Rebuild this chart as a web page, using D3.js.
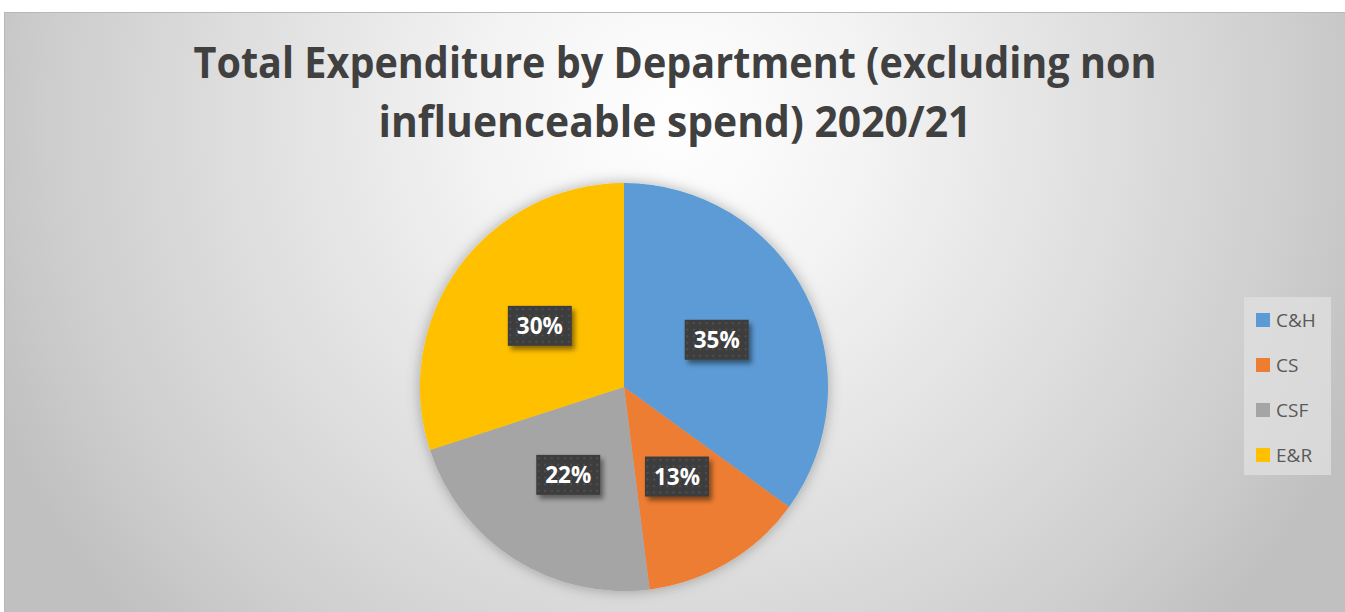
<!DOCTYPE html>
<html>
<head>
<meta charset="utf-8">
<script src="https://cdn.jsdelivr.net/npm/d3@7"></script>
<style>
  html, body { margin: 0; padding: 0; background: #ffffff; }
  svg { display: block; }
</style>
</head>
<body>
<svg id="chart" width="1345" height="612"></svg>
<script>
// Department spend shares (percent of total, excluding non-influenceable spend)
const departments = ["C&H", "CS", "CSF", "E&R"];
const shares = [35, 13, 22, 30];
const colours = ["#5b9bd5", "#ed7d31", "#a5a5a5", "#ffc000"];
const titleLines = ["Total Expenditure by Department (excluding non", "influenceable spend) 2020/21"];

const W = 1345, H = 612;
const svg = d3.select("#chart");
const defs = svg.append("defs");

// Chart-area background: light centre fading to grey edges
const bg = defs.append("radialGradient").attr("id", "bgGrad")
  .attr("gradientUnits", "userSpaceOnUse")
  .attr("cx", 675).attr("cy", 120).attr("r", 740);
[[0, "#ffffff"], [0.25, "#f4f4f4"], [0.6, "#dedede"], [0.85, "#cdcdcd"], [1, "#c0c0c0"]]
  .forEach(([o, c]) => bg.append("stop").attr("offset", o).attr("stop-color", c));

// Soft glow around the pie
const glow = defs.append("filter").attr("id", "pieGlow")
  .attr("x", "-20%").attr("y", "-20%").attr("width", "140%").attr("height", "140%");
glow.append("feDropShadow").attr("dx", 0).attr("dy", 0)
  .attr("stdDeviation", 7).attr("flood-color", "#000").attr("flood-opacity", 0.3);

// Shadow under the value labels
const lblShadow = defs.append("filter").attr("id", "lblShadow")
  .attr("x", "-20%").attr("y", "-20%").attr("width", "150%").attr("height", "160%");
lblShadow.append("feDropShadow").attr("dx", 3).attr("dy", 4)
  .attr("stdDeviation", 2.5).attr("flood-color", "#000").attr("flood-opacity", 0.45);

// Dotted dark texture for the label boxes
const pat = defs.append("pattern").attr("id", "dots")
  .attr("patternUnits", "userSpaceOnUse").attr("width", 6.5).attr("height", 6.5);
pat.append("rect").attr("width", 6.5).attr("height", 6.5).attr("fill", "#3c3c3c");
pat.append("rect").attr("x", 2).attr("y", 2).attr("width", 2).attr("height", 2).attr("fill", "#515151");

// Background panel
svg.append("rect").attr("x", 4).attr("y", 12).attr("width", W - 4).attr("height", H - 12)
  .attr("fill", "url(#bgGrad)");
svg.append("line").attr("x1", 4).attr("x2", W).attr("y1", 12.5).attr("y2", 12.5)
  .attr("stroke", "#b8b8b8").attr("stroke-width", 1);
svg.append("line").attr("x1", 4.5).attr("x2", 4.5).attr("y1", 12).attr("y2", H)
  .attr("stroke", "#b8b8b8").attr("stroke-width", 1);

// Title
const titleFont = "'Open Sans', 'Noto Sans', sans-serif";
const titleWidths = [963, 593];
const title = svg.append("g");
titleLines.forEach((t, i) => {
  const txt = title.append("text")
    .attr("x", 675).attr("y", 78 + i * 59)
    .attr("text-anchor", "middle")
    .attr("font-family", titleFont).attr("font-weight", 700)
    .attr("font-size", 43).attr("fill", "#404040")
    .text(t);
  const w = txt.node().getComputedTextLength();
  if (w > titleWidths[i]) {
    txt.attr("textLength", titleWidths[i]).attr("lengthAdjust", "spacingAndGlyphs");
  }
});

// Pie
const cx = 624, cy = 387, R = 204;
const pie = d3.pie().sort(null).value(d => d)(shares);
const arc = d3.arc().innerRadius(0).outerRadius(R);
const labelArc = d3.arc().innerRadius(R * 0.51).outerRadius(R * 0.51);

const pieG = svg.append("g").attr("transform", `translate(${cx},${cy})`);
pieG.append("g").attr("filter", "url(#pieGlow)")
  .selectAll("path").data(pie).join("path")
  .attr("d", arc)
  .attr("fill", (d, i) => colours[i]);

// Value labels
const lbl = pieG.selectAll("g.lbl").data(pie).join("g")
  .attr("class", "lbl")
  .attr("transform", d => `translate(${labelArc.centroid(d)})`);
const bw = 64, bh = 40;
lbl.append("rect")
  .attr("x", -bw / 2).attr("y", -bh / 2).attr("width", bw).attr("height", bh)
  .attr("fill", "url(#dots)").attr("filter", "url(#lblShadow)");
lbl.append("text")
  .attr("text-anchor", "middle").attr("dy", "0.36em")
  .attr("font-family", titleFont).attr("font-weight", 700)
  .attr("font-size", 22.5).attr("fill", "#ffffff")
  .text(d => d.data + "%");

// Legend
const leg = svg.append("g");
leg.append("rect").attr("x", 1244).attr("y", 297).attr("width", 87).attr("height", 178)
  .attr("fill", "#e0e0e0").attr("fill-opacity", 0.75);
const legY = d3.scalePoint().domain(departments).range([320, 455]);
const item = leg.selectAll("g.item").data(departments).join("g")
  .attr("class", "item")
  .attr("transform", d => `translate(1256,${legY(d)})`);
item.append("rect").attr("x", 0).attr("y", -7).attr("width", 14).attr("height", 14)
  .attr("fill", (d, i) => colours[i]);
item.append("text").attr("x", 20).attr("dy", "0.36em")
  .attr("font-family", titleFont).attr("font-size", 19).attr("fill", "#595959")
  .text(d => d);
</script>
</body>
</html>
